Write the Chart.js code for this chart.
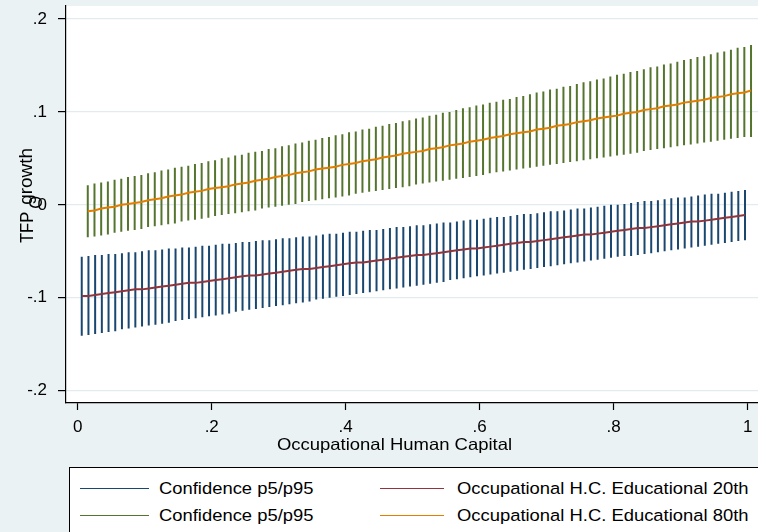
<!DOCTYPE html>
<html>
<head>
<meta charset="utf-8">
<script src="https://cdn.jsdelivr.net/npm/chart.js@4/dist/chart.umd.min.js"></script>
<style>
html,body{margin:0;padding:0;background:#eaf2f3;}
#wrap{position:relative;width:758px;height:532px;overflow:hidden;background:#eaf2f3;}
#c{position:absolute;left:0;top:0;}
#legend{position:absolute;left:69px;top:467px;width:760px;height:100px;background:#fff;border:1px solid #000;font-family:"Liberation Sans",Arial,sans-serif;color:#000;}
.sw{position:absolute;height:1px;}
.lt{position:absolute;font-size:16.3px;line-height:1;white-space:nowrap;transform:translateY(-50%) scaleX(1.13);transform-origin:left center;}
</style>
</head>
<body>
<div id="wrap">
<canvas id="c" width="758" height="532"></canvas>
<div id="legend"></div>
</div>
<script>
// ---- data ----
const xTickValues = [0, 0.2, 0.4, 0.6, 0.8, 1];
const xTickLabels = ['0', '.2', '.4', '.6', '.8', '1'];
const yTickValues = [-0.2, -0.1, 0, 0.1, 0.2];
const yTickLabels = ['-.2', '-.1', '0', '.1', '.2'];
const xTitle = 'Occupational Human Capital';
const yTitleMain = 'TFP', yTitleSub = 'O', yTitleRest = 'growth';
const legendLabels = ['Confidence p5/p95', 'Occupational H.C. Educational 20th', 'Confidence p5/p95', 'Occupational H.C. Educational 80th'];

// occupational human capital values (20th percentile set and 80th percentile set)
const xLow = [
0.006,0.016,0.026,0.036,0.046,0.056,0.066,0.076,0.086,0.096,
0.106,0.116,0.126,0.136,0.146,0.156,0.166,0.176,0.186,0.196,
0.206,0.216,0.226,0.236,0.246,0.256,0.266,0.276,0.286,0.296,
0.306,0.316,0.326,0.336,0.346,0.356,0.366,0.376,0.386,0.396,
0.406,0.416,0.426,0.436,0.446,0.456,0.466,0.476,0.486,0.496,
0.506,0.516,0.526,0.536,0.546,0.556,0.566,0.576,0.586,0.596,
0.606,0.616,0.626,0.636,0.646,0.656,0.666,0.676,0.686,0.696,
0.706,0.716,0.726,0.736,0.746,0.756,0.766,0.776,0.786,0.796,
0.806,0.816,0.826,0.836,0.846,0.856,0.866,0.876,0.886,0.896,
0.906,0.916,0.926,0.936,0.946,0.956,0.966,0.976,0.986,0.996];
const xHigh = [
0.015,0.025,0.035,0.045,0.055,0.065,0.075,0.085,0.095,0.105,
0.115,0.125,0.135,0.145,0.155,0.165,0.175,0.185,0.195,0.205,
0.215,0.225,0.235,0.245,0.255,0.265,0.275,0.285,0.295,0.305,
0.315,0.325,0.335,0.345,0.355,0.365,0.375,0.385,0.395,0.405,
0.415,0.425,0.435,0.445,0.455,0.465,0.475,0.485,0.495,0.505,
0.515,0.525,0.535,0.545,0.555,0.565,0.575,0.585,0.595,0.605,
0.615,0.625,0.635,0.645,0.655,0.665,0.675,0.685,0.695,0.705,
0.715,0.725,0.735,0.745,0.755,0.765,0.775,0.785,0.795,0.805,
0.815,0.825,0.835,0.845,0.855,0.865,0.875,0.885,0.895,0.905,
0.915,0.925,0.935,0.945,0.955,0.965,0.975,0.985,0.995,1.005];

const fit20 = [
-0.098,-0.098,-0.097,-0.096,-0.095,-0.094,-0.093,-0.092,-0.091,-0.091,
-0.090,-0.089,-0.088,-0.087,-0.086,-0.085,-0.084,-0.084,-0.083,-0.082,
-0.081,-0.080,-0.079,-0.078,-0.077,-0.076,-0.076,-0.075,-0.074,-0.073,
-0.072,-0.071,-0.070,-0.069,-0.069,-0.068,-0.067,-0.066,-0.065,-0.064,
-0.063,-0.062,-0.062,-0.061,-0.060,-0.059,-0.058,-0.057,-0.056,-0.055,
-0.054,-0.054,-0.053,-0.052,-0.051,-0.050,-0.049,-0.048,-0.047,-0.047,
-0.046,-0.045,-0.044,-0.043,-0.042,-0.041,-0.040,-0.040,-0.039,-0.038,
-0.037,-0.036,-0.035,-0.034,-0.033,-0.032,-0.032,-0.031,-0.030,-0.029,
-0.028,-0.027,-0.026,-0.025,-0.025,-0.024,-0.023,-0.022,-0.021,-0.020,
-0.019,-0.018,-0.018,-0.017,-0.016,-0.015,-0.014,-0.013,-0.012,-0.011];
const ci20Hi = [
-0.056,-0.055,-0.054,-0.054,-0.053,-0.053,-0.052,-0.051,-0.051,-0.050,
-0.049,-0.049,-0.048,-0.047,-0.047,-0.046,-0.046,-0.045,-0.044,-0.044,
-0.043,-0.042,-0.042,-0.041,-0.040,-0.040,-0.039,-0.038,-0.038,-0.037,
-0.036,-0.036,-0.035,-0.034,-0.034,-0.033,-0.032,-0.031,-0.031,-0.030,
-0.029,-0.029,-0.028,-0.027,-0.027,-0.026,-0.025,-0.024,-0.024,-0.023,
-0.022,-0.022,-0.021,-0.020,-0.019,-0.019,-0.018,-0.017,-0.016,-0.016,
-0.015,-0.014,-0.013,-0.013,-0.012,-0.011,-0.010,-0.010,-0.009,-0.008,
-0.007,-0.007,-0.006,-0.005,-0.004,-0.004,-0.003,-0.002,-0.001,0.000,
0.000,0.001,0.002,0.003,0.004,0.004,0.005,0.006,0.007,0.008,
0.008,0.009,0.010,0.011,0.012,0.012,0.013,0.014,0.015,0.016];
const ci20Lo = [
-0.141,-0.140,-0.139,-0.138,-0.137,-0.136,-0.134,-0.133,-0.132,-0.131,
-0.130,-0.129,-0.128,-0.127,-0.125,-0.124,-0.123,-0.122,-0.121,-0.120,
-0.119,-0.118,-0.117,-0.115,-0.114,-0.113,-0.112,-0.111,-0.110,-0.109,
-0.108,-0.107,-0.106,-0.105,-0.104,-0.102,-0.101,-0.100,-0.099,-0.098,
-0.097,-0.096,-0.095,-0.094,-0.093,-0.092,-0.091,-0.090,-0.089,-0.088,
-0.087,-0.086,-0.085,-0.084,-0.083,-0.081,-0.080,-0.079,-0.078,-0.077,
-0.076,-0.075,-0.074,-0.073,-0.072,-0.071,-0.070,-0.069,-0.068,-0.067,
-0.066,-0.065,-0.064,-0.063,-0.062,-0.061,-0.060,-0.059,-0.058,-0.057,
-0.056,-0.055,-0.055,-0.054,-0.053,-0.052,-0.051,-0.050,-0.049,-0.048,
-0.047,-0.046,-0.045,-0.044,-0.043,-0.042,-0.041,-0.040,-0.039,-0.038];

const fit80 = [
-0.007,-0.006,-0.004,-0.003,-0.002,0.000,0.001,0.002,0.003,0.005,
0.006,0.007,0.009,0.010,0.011,0.013,0.014,0.015,0.017,0.018,
0.019,0.020,0.022,0.023,0.024,0.026,0.027,0.028,0.030,0.031,
0.032,0.034,0.035,0.036,0.038,0.039,0.040,0.041,0.043,0.044,
0.045,0.047,0.048,0.049,0.051,0.052,0.053,0.055,0.056,0.057,
0.058,0.060,0.061,0.062,0.064,0.065,0.066,0.068,0.069,0.070,
0.072,0.073,0.074,0.076,0.077,0.078,0.079,0.081,0.082,0.083,
0.085,0.086,0.087,0.089,0.090,0.091,0.093,0.094,0.095,0.096,
0.098,0.099,0.100,0.102,0.103,0.104,0.106,0.107,0.108,0.110,
0.111,0.112,0.113,0.115,0.116,0.117,0.119,0.120,0.121,0.123];
const ci80Hi = [
0.021,0.023,0.024,0.025,0.027,0.028,0.030,0.031,0.032,0.034,
0.035,0.037,0.038,0.040,0.041,0.042,0.044,0.045,0.047,0.048,
0.050,0.051,0.053,0.054,0.056,0.057,0.058,0.060,0.061,0.063,
0.064,0.066,0.067,0.069,0.070,0.072,0.073,0.075,0.076,0.078,
0.079,0.081,0.082,0.084,0.085,0.087,0.088,0.090,0.091,0.093,
0.094,0.096,0.097,0.099,0.100,0.102,0.104,0.105,0.107,0.108,
0.110,0.111,0.113,0.114,0.116,0.117,0.119,0.121,0.122,0.124,
0.125,0.127,0.128,0.130,0.132,0.133,0.135,0.136,0.138,0.140,
0.141,0.143,0.144,0.146,0.148,0.149,0.151,0.152,0.154,0.156,
0.157,0.159,0.160,0.162,0.164,0.165,0.167,0.169,0.170,0.172];
const ci80Lo = [
-0.035,-0.034,-0.033,-0.032,-0.030,-0.029,-0.028,-0.027,-0.026,-0.024,
-0.023,-0.022,-0.021,-0.020,-0.018,-0.017,-0.016,-0.015,-0.014,-0.012,
-0.011,-0.010,-0.009,-0.008,-0.007,-0.006,-0.004,-0.003,-0.002,-0.001,
0.000,0.001,0.003,0.004,0.005,0.006,0.007,0.008,0.009,0.010,
0.012,0.013,0.014,0.015,0.016,0.017,0.018,0.019,0.020,0.022,
0.023,0.024,0.025,0.026,0.027,0.028,0.029,0.030,0.031,0.032,
0.034,0.035,0.036,0.037,0.038,0.039,0.040,0.041,0.042,0.043,
0.044,0.045,0.046,0.047,0.048,0.049,0.050,0.051,0.052,0.053,
0.054,0.055,0.056,0.058,0.059,0.060,0.061,0.062,0.063,0.064,
0.065,0.066,0.067,0.068,0.069,0.070,0.071,0.072,0.073,0.073];

// ---- colours / styles ----
const C_NAVY = '#1a476f', C_MAROON = '#90353b', C_GREEN = '#55752f', C_ORANGE = '#e37e00';
const FONT = '"Liberation Sans", Arial, sans-serif';

// ---- build library data ----
function spikeData(xs, lo, hi) {
  const d = [];
  xs.forEach((x, i) => { d.push({x: x, y: lo[i]}, {x: x, y: hi[i]}, {x: x, y: null}); });
  return d;
}
function lineData(xs, ys) { return xs.map((x, i) => ({x: x, y: ys[i]})); }
function lookup(vals, labels, v) {
  const i = vals.findIndex(t => Math.abs(t - v) < 1e-9);
  return i >= 0 ? labels[i] : '';
}

const decor = {
  id: 'decor',
  beforeDraw(chart) {
    const {ctx, chartArea: a} = chart;
    ctx.save();
    ctx.fillStyle = '#ffffff';
    ctx.fillRect(a.left, a.top, a.right - a.left, a.bottom - a.top);
    ctx.restore();
  },
  afterDraw(chart) {
    const ctx = chart.ctx;
    ctx.save();
    ctx.fillStyle = '#000';
    ctx.font = '16.5px ' + FONT;
    // x title
    ctx.save();
    ctx.translate(394.5, 450);
    ctx.scale(1.12, 1);
    ctx.textAlign = 'center';
    ctx.textBaseline = 'alphabetic';
    ctx.fillText(xTitle, 0, 0);
    ctx.restore();
    // y title
    ctx.save();
    ctx.translate(33, 243);
    ctx.rotate(-Math.PI / 2);
    ctx.scale(1, 1.12);
    ctx.textAlign = 'left';
    ctx.textBaseline = 'alphabetic';
    const w = ctx.measureText(yTitleMain).width;
    ctx.fillText(yTitleMain, 0, 0);
    ctx.fillText(yTitleSub, w + 3, 8);
    ctx.save();
    ctx.translate(w + 7, -1);
    ctx.scale(1.15, 1);
    ctx.fillText(yTitleRest, 0, 0);
    ctx.restore();
    ctx.restore();
    ctx.restore();
  }
};

function noPadV(s) { s.width = 66; s.paddingTop = 0; s.paddingBottom = 0; }
function noPadH(s) { s.height = 129; s.paddingLeft = 0; s.paddingRight = 0; }

new Chart(document.getElementById('c'), {
  type: 'line',
  data: {
    datasets: [
      {label: legendLabels[1], data: lineData(xLow, fit20), borderColor: C_MAROON, borderWidth: 2, pointRadius: 0, tension: 0},
      {label: legendLabels[3], data: lineData(xHigh, fit80), borderColor: C_ORANGE, borderWidth: 2, pointRadius: 0, tension: 0},
      {label: legendLabels[0], data: spikeData(xLow, ci20Lo, ci20Hi), borderColor: C_NAVY, borderWidth: 2, pointRadius: 0, spanGaps: false},
      {label: legendLabels[2], data: spikeData(xHigh, ci80Lo, ci80Hi), borderColor: C_GREEN, borderWidth: 2, pointRadius: 0, spanGaps: false}
    ]
  },
  options: {
    responsive: false,
    animation: false,
    events: [],
    layout: {padding: {top: 6, left: 0, right: 0, bottom: 0}},
    plugins: {legend: {display: false}, tooltip: {enabled: false}},
    scales: {
      x: {
        type: 'linear', min: -0.0175, max: 1.0154,
        afterBuildTicks: s => { s.ticks = xTickValues.map(v => ({value: v})); },
        afterFit: noPadH,
        ticks: {callback: v => lookup(xTickValues, xTickLabels, v), color: '#000', font: {family: FONT, size: 17}, padding: 7, maxRotation: 0, autoSkip: false},
        grid: {drawOnChartArea: false, drawTicks: true, tickLength: 7, tickColor: '#000', tickWidth: 1.2},
        border: {display: true, color: '#000', width: 1.2}
      },
      y: {
        type: 'linear', min: -0.2133, max: 0.214,
        afterBuildTicks: s => { s.ticks = yTickValues.map(v => ({value: v})); },
        afterFit: noPadV,
        ticks: {callback: v => lookup(yTickValues, yTickLabels, v), color: '#000', font: {family: FONT, size: 17}, padding: 11, autoSkip: false},
        grid: {color: '#e2ebed', lineWidth: 1.2, drawTicks: true, tickLength: 8, tickColor: '#000', tickWidth: 1.2},
        border: {display: true, color: '#000', width: 1.2}
      }
    }
  },
  plugins: [decor]
});

// ---- legend (HTML) ----
const legendItems = [
  {label: legendLabels[0], color: C_NAVY, lx: 10, lw: 69, tx: 89, y: 20},
  {label: legendLabels[1], color: C_MAROON, lx: 310, lw: 64, tx: 387, y: 20},
  {label: legendLabels[2], color: C_GREEN, lx: 10, lw: 69, tx: 89, y: 47},
  {label: legendLabels[3], color: C_ORANGE, lx: 310, lw: 64, tx: 387, y: 47}
];
const lg = document.getElementById('legend');
legendItems.forEach(it => {
  const s = document.createElement('div');
  s.className = 'sw';
  s.style.left = it.lx + 'px'; s.style.top = it.y + 'px'; s.style.width = it.lw + 'px'; s.style.background = it.color;
  lg.appendChild(s);
  const t = document.createElement('div');
  t.className = 'lt';
  t.style.left = it.tx + 'px'; t.style.top = it.y + 'px';
  t.textContent = it.label;
  lg.appendChild(t);
});
</script>
</body>
</html>
